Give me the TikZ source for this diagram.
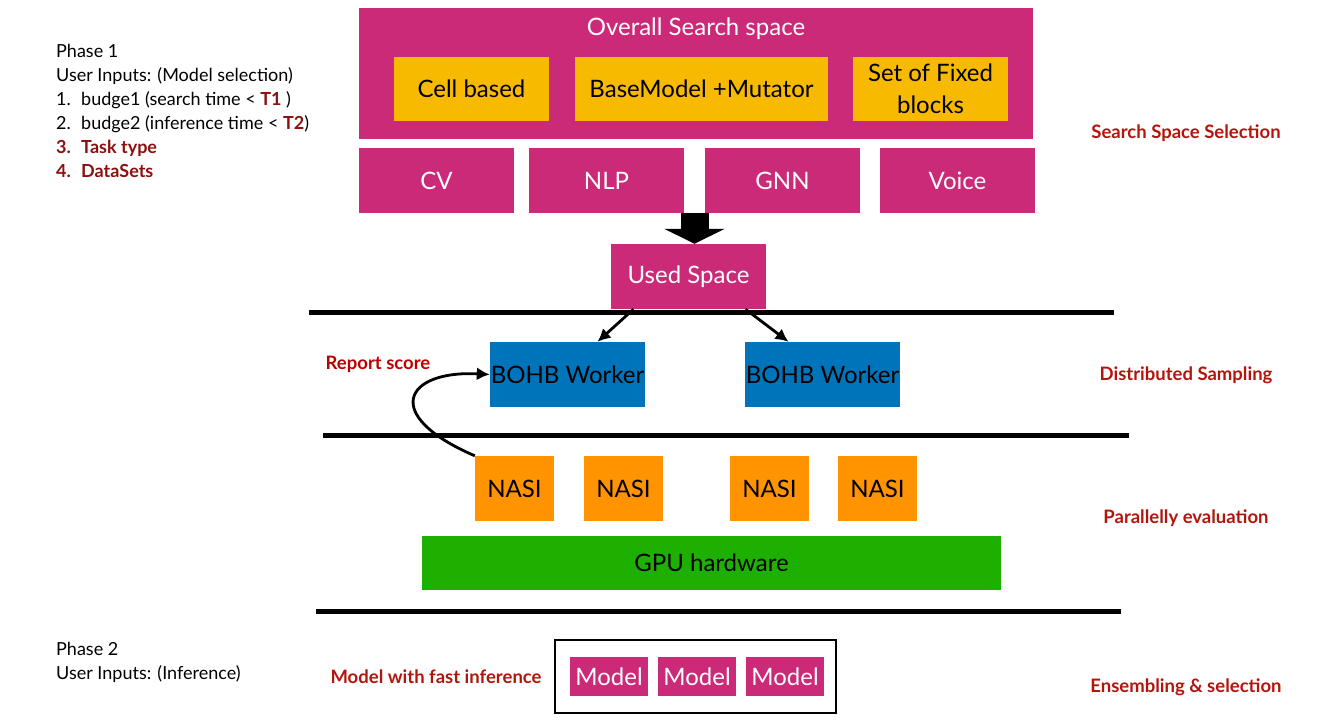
\documentclass[tikz,border=0pt]{standalone}
\usepackage{fontspec}
\setmainfont{Lato}
\usepackage{xcolor}
\usetikzlibrary{arrows.meta}
\usetikzlibrary{calc}

\definecolor{spacepink}{HTML}{CB2A79}
\definecolor{cellyellow}{HTML}{F8BA00}
\definecolor{workerblue}{HTML}{0074BA}
\definecolor{nasiorange}{HTML}{FF9300}
\definecolor{gpugreen}{HTML}{1EB000}
\definecolor{labelred}{HTML}{B3150D}
\definecolor{darkred}{HTML}{8C1010}

\tikzset{
	box/.style={inner sep=0pt,anchor=center,font=\fontsize{24}{32}\selectfont},
	pinkbox/.style={box,fill=spacepink,text=white},
	sepline/.style={line width=5pt},
	phase/.style={font=\fontsize{18.5}{22}\selectfont\bfseries,text=labelred},
	thinarrow/.style={line width=2.8pt,-{Latex[length=13pt,width=13pt]}}
}

\begin{document}
\begin{tikzpicture}[x=1pt,y=-1pt]
\useasboundingbox (0,0) rectangle (1343,727);
		% search space
		\coordinate (O) at (696,73.5);
		\node[pinkbox,minimum width=674pt,minimum height=131pt] (overall) at (O) {};
		\node[box,text=white] (title) at (696,28.5) {Overall Search space};
		\node[box,fill=cellyellow,minimum width=155pt,minimum height=64pt] (cell) at (471.5,89) {Cell based};
		\node[box,fill=cellyellow,minimum width=253pt,minimum height=64pt] (base) at (701.5,89) {BaseModel +Mutator};
		\node[box,fill=cellyellow,minimum width=155pt,minimum height=64pt,align=center] (fixed) at (930.5,89) {Set of Fixed\\blocks};
		\node[pinkbox,minimum width=155pt,minimum height=65pt] (cv) at (436.5,180.5) {CV};
		\node[pinkbox,minimum width=155pt,minimum height=65pt] (nlp) at (606.5,180.5) {NLP};
		\node[pinkbox,minimum width=155pt,minimum height=65pt] (gnn) at (782.5,180.5) {GNN};
		\node[pinkbox,minimum width=155pt,minimum height=65pt] (voice) at (957.5,180.5) {Voice};
		\node[pinkbox,minimum width=155pt,minimum height=65pt] (used) at (688.5,276.5) {Used Space};
		\coordinate (S) at ($(nlp.south east)!0.5!(gnn.south west)$);
		\draw[line width=28pt,-{Triangle[length=15pt,width=60pt]}] (S) -- (S |- used.north);
		% workers
		\draw[sepline] (309,312) -- (1114,312);
		\node[box,fill=workerblue,minimum width=155pt,minimum height=65pt] (bohb1) at (567.5,374.5) {BOHB Worker};
		\node[box,fill=workerblue,minimum width=155pt,minimum height=65pt] (bohb2) at (822.5,374.5) {BOHB Worker};
		\draw[thinarrow] ([xshift=-55pt]used.south) -- ([xshift=30pt]bohb1.north);
		\draw[thinarrow] ([xshift=57pt]used.south) -- ([xshift=-34pt]bohb2.north);
		\node[phase,text=red!75!black] (report) at (378,364) {Report score};
		% evaluation
		\draw[sepline] (323,435) -- (1129,435);
		\foreach \n/\x in {1/514.5,2/623.5,3/769.5,4/877.5}
			\node[box,fill=nasiorange,minimum width=79pt,minimum height=65pt] (nasi\n) at (\x,488.5) {NASI};
		\node[box,fill=gpugreen,minimum width=579pt,minimum height=54pt] (gpu) at (711.5,563) {GPU hardware};
		\draw[line width=2.8pt,-{Latex[length=13pt,width=13pt]}] (nasi1.north west) .. controls (380,415) and (405,370) .. (bohb1.west);
		% ensembling
		\draw[sepline] (316,611) -- (1121,611);
		\node[draw,line width=1.5pt,minimum width=281pt,minimum height=73pt,inner sep=0pt] (frame) at (695.5,676.5) {};
		\foreach \n/\x in {1/609,2/697,3/785}
			\node[pinkbox,minimum width=78pt,minimum height=39pt] (model\n) at (\x,676.5) {Model};
		\node[phase] (fast) at (436,677) {Model with fast inference};
		% phase labels
		\node[phase] (lab1) at (1186,133.5) {Search Space Selection};
		\node[phase] (lab2) at (1186,375.5) {Distributed Sampling};
		\node[phase] (lab3) at (1186,518.5) {Parallelly evaluation};
		\node[phase] (lab4) at (1186,687.5) {Ensembling \& selection};
		% user inputs
		\node[anchor=north west,align=left,inner sep=0pt,font=\fontsize{18}{24}\selectfont] (phase1) at (56,44) {Phase 1\\
User Inputs: (Model selection)\\
\makebox[25pt][l]{1.}budge1 (search time < \textcolor{darkred}{\bfseries T1} )\\
\makebox[25pt][l]{2.}budge2 (inference time < \textcolor{darkred}{\bfseries T2})\\
\textcolor{darkred}{\bfseries\makebox[25pt][l]{3.}Task type}\\
\textcolor{darkred}{\bfseries\makebox[25pt][l]{4.}DataSets}};
		\node[anchor=north west,align=left,inner sep=0pt,font=\fontsize{18}{24}\selectfont] (phase2) at (56,642) {Phase 2\\
User Inputs: (Inference)};
\end{tikzpicture}
\end{document}
